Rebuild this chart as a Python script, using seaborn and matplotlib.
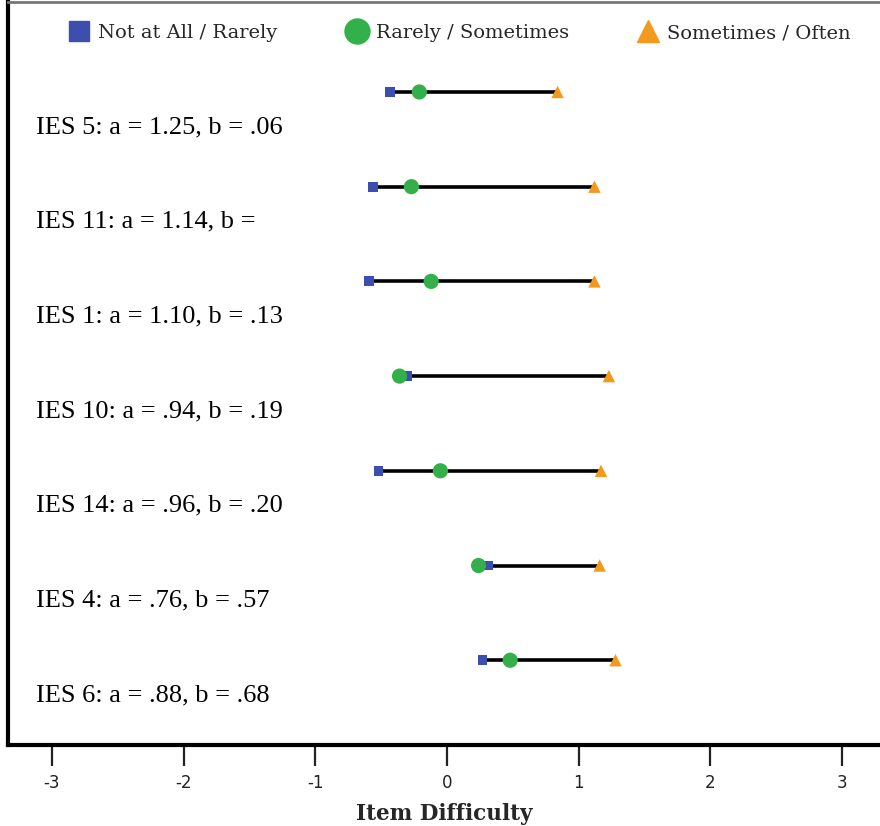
"""Item difficulty thresholds (graded response model) for IES items."""

import matplotlib.pyplot as plt
import numpy as np
import pandas as pd
import seaborn as sns

items = [
    "IES 5: a = 1.25, b = .06",
    "IES 11: a = 1.14, b =",
    "IES 1: a = 1.10, b = .13",
    "IES 10: a = .94, b = .19",
    "IES 14: a = .96, b = .20",
    "IES 4: a = .76, b = .57",
    "IES 6: a = .88, b = .68",
]
not_at_all_rarely = [-0.43, -0.56, -0.59, -0.30, -0.52, 0.31, 0.27]
rarely_sometimes = [-0.21, -0.27, -0.12, -0.36, -0.05, 0.24, 0.48]
sometimes_often = [0.84, 1.12, 1.12, 1.23, 1.17, 1.16, 1.28]

levels = ["Not at All / Rarely", "Rarely / Sometimes", "Sometimes / Often"]
PALETTE = dict(zip(levels, ["#3A4FB0", "#33B04A", "#F39A1E"]))
MARKERS = dict(zip(levels, ["s", "o", "^"]))
SIZES = dict(zip(levels, [50, 120, 80]))

frame = pd.DataFrame(
    {
        "item": np.tile(items, 3),
        "row": np.tile(np.arange(len(items)), 3),
        "threshold": not_at_all_rarely + rarely_sometimes + sometimes_often,
        "level": np.repeat(levels, len(items)),
    }
)

sns.set_style("white")
plt.rcParams["font.family"] = ["Liberation Serif", "DejaVu Serif"]

fig = plt.figure(figsize=(8.8, 8.26), dpi=100)
ax = fig.add_axes([8 / 880, 81 / 826, 872 / 880, 743 / 826])

span = frame.groupby("row")["threshold"].agg(["min", "max"])
ax.hlines(span.index, span["min"], span["max"], color="black", lw=2.6, zorder=1)

sns.scatterplot(
    data=frame,
    x="threshold",
    y="row",
    hue="level",
    style="level",
    size="level",
    palette=PALETTE,
    markers=MARKERS,
    sizes=SIZES,
    hue_order=levels,
    linewidth=0,
    zorder=2,
    legend=False,
    ax=ax,
)

for i, label in enumerate(items):
    ax.text(-3.12, i + 0.37, label, fontsize=19, va="center", ha="left",
            color="black")

ax.set_xlim(-3.334, 3.289)
ax.set_ylim(6.895, -0.95)
ax.set_yticks([])
ax.set_xticks(range(-3, 4))
ax.set_xticklabels([str(t) for t in range(-3, 4)], fontsize=12,
                   family="DejaVu Sans", color="#222222")
ax.tick_params(axis="x", direction="out", length=15, width=1.6, pad=6,
               bottom=True, color="#222222")
ax.set_xlabel("Item Difficulty", fontsize=15.5, fontweight="bold",
              family="DejaVu Serif", labelpad=8)
ax.set_ylabel("")

for side in ["left", "bottom"]:
    ax.spines[side].set_linewidth(3)
    ax.spines[side].set_color("black")
ax.spines["top"].set_color("#777777")
ax.spines["top"].set_linewidth(2)
ax.spines["right"].set_visible(False)

handles = [
    plt.Line2D([], [], ls="", marker=MARKERS[lv], color=PALETTE[lv],
               markersize=ms, label=lv)
    for lv, ms in zip(levels, [15, 18, 16])
]
ax.legend(
    handles=handles,
    loc="center left",
    bbox_to_anchor=(60 / 872, 1 - 31 / 743),
    ncol=3,
    frameon=False,
    prop={"family": "DejaVu Serif", "size": 14},
    handletextpad=0.4,
    handlelength=1.15,
    columnspacing=3.5,
    borderaxespad=0,
    borderpad=0,
)

fig.savefig("out.png", dpi=100)
